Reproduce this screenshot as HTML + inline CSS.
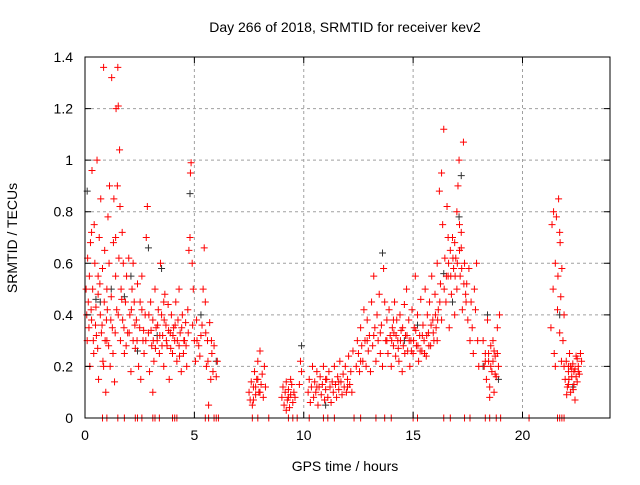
<!DOCTYPE html>
<html><head><meta charset="utf-8"><style>
body{margin:0;background:#fff;}
svg text{font-family:"Liberation Sans",sans-serif;}
</style></head><body>
<svg id="chart" width="640" height="480" xmlns="http://www.w3.org/2000/svg">
<rect width="640" height="480" fill="#fff"/>
<text x="345" y="32" font-size="14" text-anchor="middle">Day 266 of 2018, SRMTID for receiver kev2</text>
<text x="345" y="471" font-size="14" text-anchor="middle">GPS time / hours</text>
<text x="17" y="238" font-size="14" text-anchor="middle" transform="rotate(-90 17 238)">SRMTID / TECUs</text>
<g id="grid"></g><g id="marks"></g><g id="axes"></g>
</svg>
<script>
const xTicks=[0,5,10,15,20];
const yTicks=[0,0.2,0.4,0.6,0.8,1,1.2,1.4];
const yTickLabels=["0","0.2","0.4","0.6","0.8","1","1.2","1.4"];
const redPoints=[
[0.05,0.5],[0.1,0.3],[0.12,0.62],[0.15,0.45],[0.2,0.55],[0.22,0.2],[0.25,0.68],[0.3,0.38],[0.32,0.96],[0.35,0.5],[0.4,0.25],[0.42,0.75],[0.45,0.6],[0.5,0.43],[0.52,0.32],[0.55,1.0],[0.6,0.55],[0.62,0.15],[0.65,0.7],[0.7,0.4],[0.72,0.85],[0.75,0.33],[0.8,0.58],[0.82,0.22],[0.85,1.36],[0.88,0.45],[0.9,0.65],[0.95,0.1],[0.98,0.38],[1.0,0.5],[1.05,0.78],[1.08,0.28],[1.1,0.6],[1.12,0.9],[1.15,0.2],[1.2,0.47],[1.22,1.32],[1.25,0.35],[1.3,0.68],[1.32,0.85],[1.35,0.14],[1.4,0.55],[1.42,1.2],[1.45,0.42],[1.48,0.9],[1.5,1.36],[1.52,1.21],[1.55,0.62],[1.58,1.04],[1.6,0.82],[1.62,0.3],[1.65,0.5],[1.7,0.72],[1.72,0.38],[1.75,0.6],[1.8,0.25],[1.85,0.45],[1.9,0.55],[1.95,0.33],[2.0,0.62],[2.05,0.4],[2.1,0.18],[2.15,0.5],[2.2,0.3],[2.25,0.45],[2.3,0.27],[2.35,0.38],[2.4,0.52],[2.45,0.2],[2.5,0.35],[2.55,0.15],[2.6,0.42],[2.65,0.3],[2.7,0.25],[2.75,0.4],[2.8,0.7],[2.85,0.82],[2.9,0.33],[2.95,0.18],[3.0,0.45],[3.05,0.28],[3.1,0.38],[3.15,0.22],[3.2,0.5],[3.25,0.35],[3.3,0.3],[3.35,0.42],[3.4,0.25],[3.45,0.6],[3.5,0.4],[3.55,0.32],[3.6,0.2],[3.65,0.48],[3.7,0.36],[3.75,0.28],[3.8,0.44],[3.85,0.15],[3.9,0.33],[3.95,0.4],[4.0,0.25],[4.05,0.35],[4.1,0.3],[4.15,0.45],[4.2,0.22],[4.25,0.38],[4.3,0.28],[4.35,0.33],[4.4,0.18],[4.45,0.4],[4.5,0.25],[4.55,0.3],[4.6,0.37],[4.65,0.2],[4.7,0.42],[4.75,0.65],[4.8,0.7],[4.82,0.95],[4.85,0.99],[4.9,0.6],[4.95,0.5],[5.0,0.3],[5.05,0.22],[5.1,0.38],[5.2,0.28],[5.3,0.32],[5.4,0.5],[5.45,0.66],[5.5,0.45],[5.55,0.2],[5.6,0.3],[5.65,0.05],[5.7,0.37],[5.75,0.15],[5.8,0.25],[5.85,0.18],[5.9,0.28],[6.0,0.16],[6.05,0.22],[0.6,0.48],[1.0,0.3],[1.4,0.7],[2.2,0.6],[2.6,0.55],[3.1,0.1],[3.6,0.45],[4.3,0.5],[0.3,0.72],[0.85,0.2],
[7.5,0.1],[7.55,0.07],[7.6,0.14],[7.65,0.05],[7.7,0.12],[7.75,0.18],[7.8,0.09],[7.85,0.15],[7.9,0.22],[7.95,0.1],[8.0,0.26],[8.05,0.13],[8.1,0.17],[8.15,0.08],[8.2,0.2],[8.25,0.12],[7.7,0.07],[7.9,0.15],
[9.0,0.08],[9.05,0.12],[9.1,0.05],[9.15,0.1],[9.2,0.14],[9.25,0.07],[9.3,0.11],[9.35,0.04],[9.4,0.09],[9.45,0.13],[9.5,0.06],[9.55,0.1],[9.6,0.08],[9.2,0.03],[9.4,0.15],
[9.8,0.13],[9.85,0.22],[9.9,0.18],[10.2,0.1],[10.25,0.15],[10.3,0.06],[10.35,0.12],[10.4,0.2],[10.45,0.08],[10.5,0.14],[10.55,0.1],[10.6,0.18],[10.65,0.05],[10.7,0.12],[10.75,0.16],[10.8,0.09],[10.85,0.13],[10.9,0.2],[10.95,0.07],[11.0,0.11],[11.05,0.15],[11.1,0.08],[11.15,0.18],[11.2,0.12],[11.25,0.06],[11.3,0.14],[11.35,0.1],[11.4,0.2],[11.45,0.13],[11.5,0.08],[11.55,0.16],[11.6,0.11],[11.65,0.22],[11.7,0.14],[11.75,0.09],[11.8,0.17],[11.85,0.12],[11.9,0.2],[11.95,0.1],[12.0,0.15],[12.05,0.24],[12.1,0.13],[12.15,0.18],[12.2,0.1],[12.25,0.26],
[12.4,0.2],[12.45,0.3],[12.5,0.25],[12.55,0.18],[12.6,0.35],[12.65,0.28],[12.7,0.22],[12.75,0.42],[12.8,0.3],[12.85,0.2],[12.9,0.38],[12.95,0.26],[13.0,0.32],[13.05,0.18],[13.1,0.45],[13.15,0.28],[13.2,0.55],[13.25,0.35],[13.3,0.22],[13.35,0.4],[13.4,0.3],[13.45,0.48],[13.5,0.25],[13.55,0.36],[13.6,0.2],[13.65,0.58],[13.7,0.45],[13.75,0.3],[13.8,0.38],[13.85,0.25],[13.9,0.42],[13.95,0.32],[14.0,0.2],[14.05,0.35],[14.1,0.28],[14.15,0.45],[14.2,0.24],[14.25,0.38],[14.3,0.3],[14.35,0.22],[14.4,0.4],[14.45,0.34],[14.5,0.18],[14.55,0.28],[14.6,0.44],[14.65,0.32],[14.7,0.5],[14.75,0.26],[14.8,0.38],[14.85,0.2],[14.9,0.3],[14.95,0.42],[15.0,0.25],[15.05,0.35],[15.1,0.55],[15.15,0.28],[15.2,0.4],[15.25,0.22],[15.3,0.32],[15.35,0.46],[15.4,0.26],[15.45,0.36],[15.5,0.3],[15.55,0.5],[15.6,0.24],[15.65,0.4],[15.7,0.33],[15.75,0.45],[15.8,0.28],[15.85,0.55],[15.9,0.38],[15.95,0.3],[16.0,0.48],[16.05,0.35],[16.1,0.6],[16.15,0.42],[16.2,0.88],[16.25,0.52],[16.3,0.38],[16.35,0.75],[16.4,1.12],[16.45,0.62],[16.5,0.45],[16.55,0.82],[16.6,0.55],[16.65,0.35],[16.7,0.65],[16.75,0.48],[16.8,0.7],[16.85,0.58],[16.9,0.4],[16.95,0.62],[17.0,0.5],[17.05,0.9],[17.1,1.0],[17.12,0.75],[17.15,0.55],[17.2,0.66],[17.25,0.42],[17.3,1.07],[17.35,0.6],[17.4,0.48],[17.45,0.52],[17.5,0.38],[17.55,0.58],[17.6,0.3],[17.65,0.45],[17.7,0.35],[17.75,0.25],[17.8,0.5],[17.85,0.42],[17.9,0.6],[17.95,0.3],[18.0,0.2],[16.1,0.3],[16.6,0.7],[16.9,0.68],[17.0,0.8],[17.2,0.72],[16.3,0.95],
[18.2,0.3],[18.25,0.2],[18.3,0.25],[18.35,0.15],[18.4,0.38],[18.45,0.22],[18.5,0.12],[18.55,0.28],[18.6,0.18],[18.65,0.3],[18.7,0.1],[18.75,0.24],[18.8,0.16],[18.85,0.35],[18.9,0.2],[18.95,0.4],[18.5,0.08],[18.7,0.26],
[21.3,0.35],[21.35,0.75],[21.4,0.5],[21.42,0.8],[21.45,0.25],[21.5,0.6],[21.55,0.78],[21.6,0.42],[21.62,0.55],[21.65,0.85],[21.7,0.33],[21.72,0.68],[21.75,0.47],[21.78,0.22],[21.8,0.58],[21.85,0.3],[21.9,0.4],[21.5,0.2],[21.7,0.72],
[21.9,0.2],[21.95,0.15],[22.0,0.22],[22.05,0.12],[22.1,0.18],[22.15,0.25],[22.2,0.1],[22.25,0.16],[22.3,0.21],[22.35,0.13],[22.4,0.19],[22.45,0.24],[22.5,0.14],[22.55,0.2],[22.6,0.17],[22.65,0.25],[22.7,0.22],[22.02,0.09],[22.2,0.2],[22.4,0.07],[22.5,0.23],[22.12,0.15],[22.32,0.11]
];
const redExtraPoints=[
[0.08,0.4],[0.18,0.35],[0.28,0.42],[0.38,0.3],[0.48,0.36],[0.58,0.27],[0.68,0.52],[0.78,0.36],[0.92,0.3],[1.02,0.42],[1.18,0.38],[1.28,0.25],[1.38,0.33],[1.52,0.4],[1.68,0.46],[1.78,0.35],[1.88,0.28],[2.02,0.33],[2.12,0.42],[2.28,0.36],[2.38,0.3],[2.52,0.45],[2.68,0.34],[2.78,0.3],[2.92,0.4],[3.02,0.34],[3.12,0.3],[3.22,0.27],[3.32,0.36],[3.42,0.32],[3.52,0.28],[3.62,0.38],[3.72,0.3],[3.82,0.34],[3.92,0.27],[4.02,0.32],[4.12,0.36],[4.22,0.3],[4.32,0.24],[4.42,0.35],[4.52,0.3],[4.62,0.28],[4.72,0.33],[4.92,0.36],[5.12,0.3],[5.25,0.24],[5.35,0.36],[5.52,0.33],[5.62,0.22],[5.78,0.3],
[14.02,0.3],[14.12,0.33],[14.22,0.32],[14.32,0.27],[14.42,0.3],[14.52,0.35],[14.62,0.25],[14.72,0.32],[14.82,0.3],[14.92,0.26],[15.02,0.3],[15.12,0.34],[15.22,0.28],[15.32,0.26],[15.42,0.32],[15.52,0.25],[15.62,0.32],[15.72,0.28],[15.82,0.36],[15.92,0.33],[16.02,0.4],[16.12,0.38],[16.22,0.45],[16.42,0.5],[16.52,0.55],[16.62,0.6],[16.72,0.55],[16.82,0.62],[16.92,0.55],[17.02,0.6],[17.12,0.65],[17.22,0.58],[17.32,0.52],[17.42,0.45],[12.6,0.22],[12.9,0.3],[13.2,0.32],[13.5,0.33],[13.8,0.3],[14.1,0.38],
[18.3,0.22],[18.45,0.25],[18.55,0.2],[18.65,0.22],[18.75,0.17],[18.85,0.25],[22.1,0.2],[22.25,0.19],[22.35,0.18],[22.45,0.16],[22.55,0.18],[22.1,0.13],[7.8,0.12],[8.0,0.1],[9.3,0.08],[10.6,0.12],[11.0,0.15],[11.6,0.14],[12.0,0.12]
];
const greyPoints=[[0.1,0.88],[0.5,0.46],[1.2,0.5],[1.8,0.47],[2.4,0.26],[2.9,0.66],[3.5,0.58],[4.8,0.87],[5.3,0.4],[6.0,0.22],[9.9,0.28],[11.0,0.05],[13.6,0.64],[15.2,0.36],[16.4,0.56],[17.2,0.94],[17.1,0.78],[18.4,0.4],[18.9,0.15],[21.7,0.4],[22.3,0.12],[0.7,0.45],[2.1,0.55],[3.3,0.32],[14.6,0.3],[16.8,0.45],[18.2,0.2]];
const zeroTimes=[0.8,1.0,1.5,1.8,2.3,2.4,2.6,3.1,3.2,3.4,4.0,4.1,4.2,5.5,5.65,5.9,6.0,6.1,7.65,7.9,8.4,9.3,9.5,9.7,10.25,10.9,11.1,11.4,12.3,12.6,13.3,13.7,14.0,15.0,15.2,16.4,16.7,17.35,17.6,18.3,18.5,18.8,19.0,20.3,21.6,21.7,21.8,21.9];
const NS="http://www.w3.org/2000/svg";
const L=85,R=610,T=57,B=418;
const xScale=h=>L+(h/24)*(R-L);
const yScale=v=>B-(v/1.4)*(B-T);
function mk(tag,attrs,parent){const e=document.createElementNS(NS,tag);for(const k in attrs)e.setAttribute(k,attrs[k]);parent.appendChild(e);return e;}
const grid=document.getElementById('grid'),marks=document.getElementById('marks'),axes=document.getElementById('axes');
xTicks.forEach((t,i)=>{const x=xScale(t);
 if(t>0){const g=mk('line',{x1:x,x2:x,y1:T,y2:B,stroke:'#a0a0a0','stroke-dasharray':'3,3','stroke-width':1},grid);
 
 }
 const tk=mk('path',{d:`M${x},${B}v-6M${x},${T}v6`,stroke:'#000'},axes);
 
 
 const tx=mk('text',{x:x,y:B+22,'font-size':14,'text-anchor':'middle'},axes);tx.textContent=t;
 
 
});
yTicks.forEach((t,i)=>{const y=yScale(t);
 if(t>0&&t<1.4){const g=mk('line',{x1:L,x2:R,y1:y,y2:y,stroke:'#a0a0a0','stroke-dasharray':'3,3','stroke-width':1},grid);
 
 }
 const tk=mk('path',{d:`M${L},${y}h6M${R},${y}h-6`,stroke:'#000'},axes);
 
 
 const tx=mk('text',{x:L-12,y:y+5,'font-size':14,'text-anchor':'end'},axes);tx.textContent=yTickLabels[i];
 
 
});
const frame=mk('rect',{x:L,y:T,width:R-L,height:B-T,fill:'none',stroke:'#000','stroke-width':1},axes);


function plus(h,v,col){const x=xScale(h),y=yScale(v);
 const p=mk('path',{d:`M${x-3.5},${y}h7M${x},${y-3.5}v7`,stroke:col,'stroke-width':1},marks);return p;}
greyPoints.forEach(([h,v])=>{const p=plus(h,v,'#333');
 
 });
redPoints.forEach(([h,v])=>{const p=plus(h,v,'#ff0000');
 
 });
redExtraPoints.forEach(([h,v])=>{const p=plus(h,v,'#ff0000');
 
 });
zeroTimes.forEach(h=>{const p=plus(h,0,'#ff0000');
 
 });
</script>
</body></html>
